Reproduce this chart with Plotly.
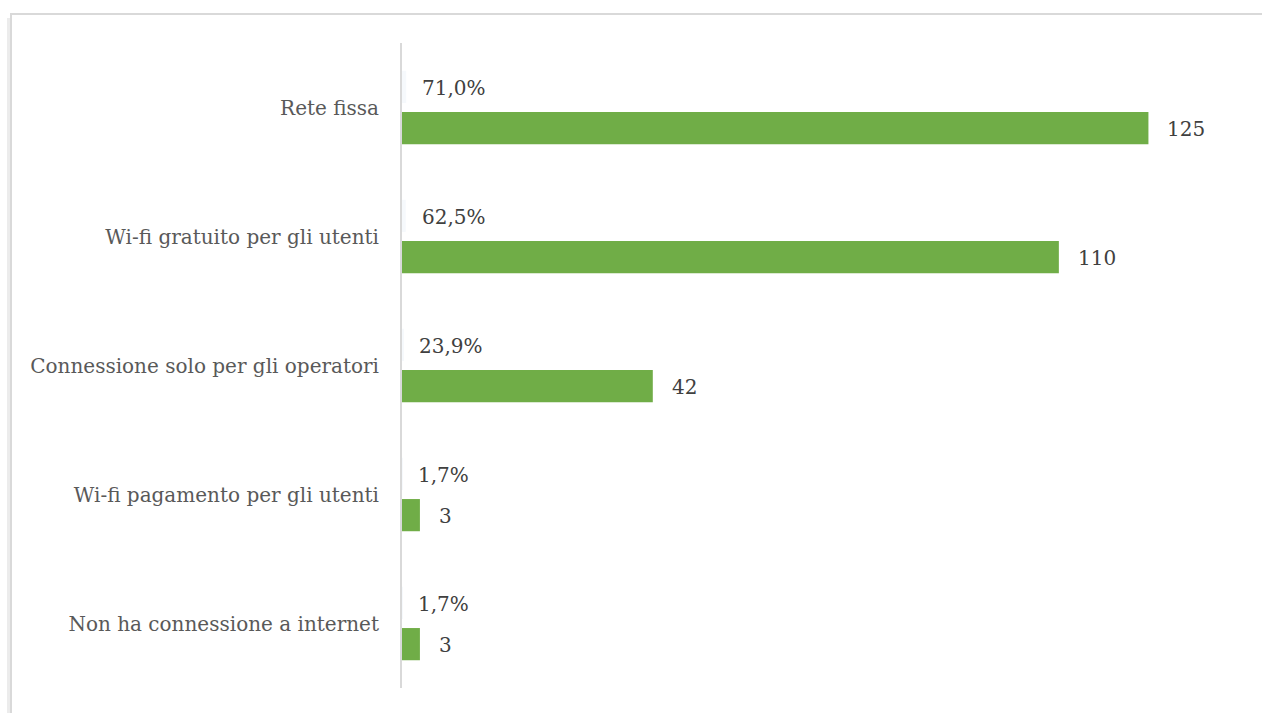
import plotly.graph_objects as go

# Connection types and their counts / shares
categories = [
    "Rete fissa",
    "Wi-fi gratuito per gli utenti",
    "Connessione solo per gli operatori",
    "Wi-fi pagamento per gli utenti",
    "Non ha connessione a internet",
]
counts = [125, 110, 42, 3, 3]
percents = [71.0, 62.5, 23.9, 1.7, 1.7]
percent_labels = ["71,0%", "62,5%", "23,9%", "1,7%", "1,7%"]

W, H = 1263, 713
PL, PR = 402, 1238   # plot area left/right (px)
PT, PB = 43, 688     # plot area top/bottom (px)

FONT = "DejaVu Serif"
LABEL_COLOR = "#404040"
AXIS_COLOR = "#595959"
GREEN = "#70ad47"
FS = 20

fig = go.Figure()

# Counts (green bars)
fig.add_trace(go.Bar(
    y=categories, x=counts, orientation="h",
    marker=dict(color=GREEN, line=dict(width=0)),
    name="N", showlegend=False, hoverinfo="x+y",
))

# Shares (nearly invisible bars, in fractions)
fig.add_trace(go.Bar(
    y=categories, x=[p / 100 for p in percents], orientation="h",
    marker=dict(color="#f6f9fc", line=dict(width=0)),
    name="%", showlegend=False, hoverinfo="x+y",
))

# Value labels placed just past the end of each bar
for cat, v in zip(categories, counts):
    fig.add_annotation(
        x=v, y=cat, xref="x", yref="y", text=str(v), showarrow=False,
        xanchor="left", xshift=17, yshift=-21,
        font=dict(family=FONT, size=FS, color=LABEL_COLOR),
    )
for cat, p, lab in zip(categories, percents, percent_labels):
    fig.add_annotation(
        x=p / 100, y=cat, xref="x", yref="y", text=lab, showarrow=False,
        xanchor="left", xshift=14, yshift=20,
        font=dict(family=FONT, size=FS, color=LABEL_COLOR),
    )

def px_x(px):
    return (px - PL) / (PR - PL)

def px_y(py):
    return (PB - py) / (PB - PT)

# Chart frame: faint shadow plus light border on the top and left
fig.add_shape(type="line", xref="paper", yref="paper",
              x0=px_x(8.5), x1=px_x(8.5), y0=px_y(18), y1=px_y(H + 5),
              line=dict(color="#ececec", width=3))
fig.add_shape(type="line", xref="paper", yref="paper",
              x0=px_x(11), x1=px_x(11), y0=px_y(14), y1=px_y(H + 5),
              line=dict(color="#d9d9d9", width=2))
fig.add_shape(type="line", xref="paper", yref="paper",
              x0=px_x(10), x1=px_x(1262), y0=px_y(14), y1=px_y(14),
              line=dict(color="#d9d9d9", width=2))

fig.update_layout(
    width=W, height=H,
    margin=dict(l=PL, r=W - PR, t=PT, b=H - PB, pad=0),
    paper_bgcolor="white", plot_bgcolor="white",
    barmode="group", bargap=0.36, bargroupgap=0.22,
    font=dict(family=FONT, size=FS, color=AXIS_COLOR),
    xaxis=dict(range=[0, 140], visible=False, showgrid=False, zeroline=False),
    yaxis=dict(
        categoryorder="array", categoryarray=categories[::-1],
        showline=True, linecolor="#d9d9d9", linewidth=2,
        ticks="", ticklabelstandoff=17, showgrid=False,
        tickfont=dict(family=FONT, size=FS, color=AXIS_COLOR),
    ),
)

fig.write_html("out.html")
